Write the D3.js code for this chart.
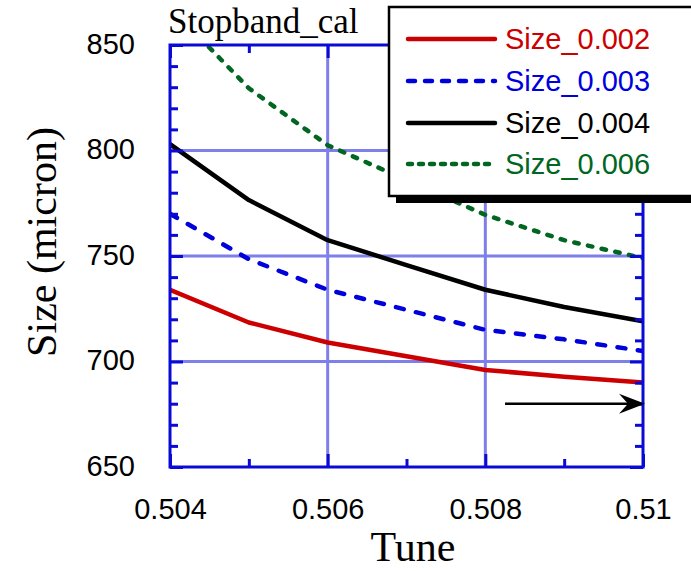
<!DOCTYPE html>
<html>
<head>
<meta charset="utf-8">
<script src="https://cdn.jsdelivr.net/npm/d3@7/dist/d3.min.js"></script>
<style>
  html, body { margin: 0; padding: 0; background: #fff; }
  svg { display: block; }
</style>
</head>
<body>
<svg id="chart" width="691" height="571"></svg>
<script>
// ---- data ----
const tune = [0.504, 0.505, 0.506, 0.507, 0.508, 0.509, 0.51];
const size002 = [734, 718.5, 709, 702.5, 696, 692.8, 690];
const size003 = [770, 748.5, 734, 724.5, 715, 710.5, 705];
const size004 = [803, 776.5, 757.5, 745.7, 734, 725.8, 719];
const size006 = [868, 829.5, 802.5, 786, 769.5, 757.5, 749];
const seriesNames = ["Size_0.002", "Size_0.003", "Size_0.004", "Size_0.006"];
const xMajorTicks = [0.504, 0.506, 0.508, 0.51];
const xTickLabels = ["0.504", "0.506", "0.508", "0.51"];
const xMinorTicks = [0.505, 0.507, 0.509];
const yMajorTicks = [650, 700, 750, 800, 850];
const yTickLabels = ["650", "700", "750", "800", "850"];
const arrowX = [0.50825, 0.51];
const arrowY = 680;

// ---- layout ----
const svg = d3.select("#chart");
const L = 170, R = 643, T = 45, B = 467;
const x = d3.scaleLinear().domain([0.504, 0.51]).range([L, R]);
const y = d3.scaleLinear().domain([650, 850]).range([B, T]);
const sans = "'Liberation Sans', Arial, sans-serif";
const serif = "'Liberation Serif', 'Times New Roman', serif";
const frameColor = "#0a0ad6";
const gridColor = "#7f7fec";

const styles = [
  { color: "#cc0000", dash: null },
  { color: "#0000dd", dash: "8,12.5" },
  { color: "#000000", dash: null },
  { color: "#006622", dash: "4.5,9.5" }
];
const allSeries = [size002, size003, size004, size006];

svg.append("defs").append("clipPath").attr("id", "plotclip")
  .append("rect").attr("x", L).attr("y", T).attr("width", R - L).attr("height", B - T);

// grid lines (interior major)
const grid = svg.append("g");
grid.selectAll(".gx").data(xMajorTicks.slice(1, -1)).enter().append("line")
  .attr("x1", d => x(d)).attr("x2", d => x(d)).attr("y1", T).attr("y2", B)
  .attr("stroke", gridColor).attr("stroke-width", 3);
grid.selectAll(".gy").data(yMajorTicks.slice(1, -1)).enter().append("line")
  .attr("y1", d => y(d)).attr("y2", d => y(d)).attr("x1", L).attr("x2", R)
  .attr("stroke", gridColor).attr("stroke-width", 3);

// series lines
const line = d3.line().x((d, i) => x(tune[i])).y(d => y(d));
const lines = svg.append("g").attr("clip-path", "url(#plotclip)");
allSeries.forEach((s, k) => {
  lines.append("path").datum(s).attr("d", line)
    .attr("fill", "none").attr("stroke", styles[k].color)
    .attr("stroke-width", 4.5)
    .attr("stroke-linejoin", "round")
    .attr("stroke-linecap", styles[k].dash ? "round" : "butt")
    .attr("stroke-dasharray", styles[k].dash);
});

// axes with inward ticks
const tickMajor = 13, tickMinor = 8;
function addAxis(axisGen, transform) {
  const g = svg.append("g").attr("transform", transform).call(axisGen);
  g.select(".domain").remove();
  g.selectAll(".tick line").attr("stroke", frameColor).attr("stroke-width", 3);
  return g;
}
const yMinorTicks = d3.range(660, 850, 10).filter(v => v % 50 !== 0);
// bottom
const gB = addAxis(d3.axisBottom(x).tickValues(xMajorTicks).tickSize(-tickMajor)
  .tickFormat((d, i) => xTickLabels[i]), `translate(0,${B})`);
gB.selectAll(".tick text").attr("font-family", sans).attr("font-size", 29)
  .attr("fill", "#000").attr("dy", null).attr("y", 52);
addAxis(d3.axisBottom(x).tickValues(xMinorTicks).tickSize(-tickMinor).tickFormat(""), `translate(0,${B})`);
// top
addAxis(d3.axisTop(x).tickValues(xMajorTicks).tickSize(-tickMajor).tickFormat(""), `translate(0,${T})`);
addAxis(d3.axisTop(x).tickValues(xMinorTicks).tickSize(-tickMinor).tickFormat(""), `translate(0,${T})`);
// left
const gL = addAxis(d3.axisLeft(y).tickValues(yMajorTicks).tickSize(-tickMajor)
  .tickFormat((d, i) => yTickLabels[i]), `translate(${L},0)`);
gL.selectAll(".tick text").attr("font-family", sans).attr("font-size", 29)
  .attr("fill", "#000").attr("dy", null).attr("x", -35).attr("y", 8);
addAxis(d3.axisLeft(y).tickValues(yMinorTicks).tickSize(-tickMinor).tickFormat(""), `translate(${L},0)`);
// right
addAxis(d3.axisRight(y).tickValues(yMajorTicks).tickSize(-tickMajor).tickFormat(""), `translate(${R},0)`);
addAxis(d3.axisRight(y).tickValues(yMinorTicks).tickSize(-tickMinor).tickFormat(""), `translate(${R},0)`);

// frame
svg.append("rect").attr("x", L).attr("y", T).attr("width", R - L).attr("height", B - T)
  .attr("fill", "none").attr("stroke", frameColor).attr("stroke-width", 3);

// arrow annotation
const ax1 = x(arrowX[0]), ax2 = x(arrowX[1]) + 2, ay = y(arrowY);
svg.append("line").attr("x1", ax1).attr("x2", ax2 - 10).attr("y1", ay).attr("y2", ay)
  .attr("stroke", "#000").attr("stroke-width", 2.5);
svg.append("path")
  .attr("d", `M${ax2},${ay} L${ax2 - 26},${ay - 10} L${ax2 - 17},${ay} L${ax2 - 26},${ay + 10} Z`)
  .attr("fill", "#000");

// legend
const lg = svg.append("g");
const lx = 389, ly = 7, lw = 330, lh = 189;
lg.append("rect").attr("x", lx + 7).attr("y", ly + 7).attr("width", lw).attr("height", lh).attr("fill", "#000");
lg.append("rect").attr("x", lx).attr("y", ly).attr("width", lw).attr("height", lh)
  .attr("fill", "#fff").attr("stroke", "#000").attr("stroke-width", 2.5);
const legendY = [39, 81, 123, 164];
seriesNames.forEach((name, k) => {
  lg.append("line").attr("x1", 408).attr("x2", 495).attr("y1", legendY[k]).attr("y2", legendY[k])
    .attr("stroke", styles[k].color).attr("stroke-width", 4.5)
    .attr("stroke-linecap", "round")
    .attr("stroke-dasharray", styles[k].dash ? (k === 1 ? "7,10" : "4,7") : null);
  lg.append("text").attr("x", 505).attr("y", legendY[k] + 10)
    .attr("font-family", sans).attr("font-size", 29).attr("fill", styles[k].color)
    .text(name);
});

// titles
svg.append("text").attr("x", 168).attr("y", 33).attr("font-family", serif)
  .attr("font-size", 35).attr("fill", "#000").text("Stopband_cal");
svg.append("text").attr("x", 413).attr("y", 561).attr("text-anchor", "middle")
  .attr("font-family", serif).attr("font-size", 42).attr("fill", "#000").text("Tune");
svg.append("text").attr("transform", "translate(56,242) rotate(-90)").attr("text-anchor", "middle")
  .attr("font-family", serif).attr("font-size", 42).attr("fill", "#000").text("Size (micron)");
</script>
</body>
</html>
